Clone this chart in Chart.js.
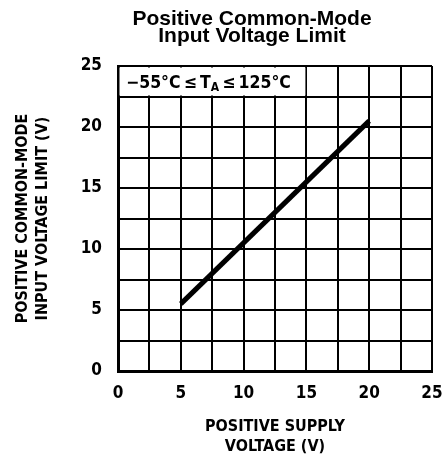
<!DOCTYPE html>
<html>
<head>
<meta charset="utf-8">
<script src="https://cdn.jsdelivr.net/npm/chart.js@4.4.1/dist/chart.umd.min.js"></script>
<style>
  html, body { margin: 0; padding: 0; background: #fff; }
  #wrap { width: 443px; height: 463px; }
</style>
</head>
<body>
<div id="wrap"><canvas id="c" width="443" height="463"></canvas></div>
<script>
// ---- data ----
const supplyVoltage = [5, 20];          // V (x)
const cmLimit = [5.5, 20.5];            // V (y)
const axisMin = 0;
const axisMax = 25;
const gridStep = 2.5;
const labelStep = 5;
const titleLines = ['Positive Common-Mode', 'Input Voltage Limit'];
const xTitleLines = ['POSITIVE SUPPLY', 'VOLTAGE (V)'];
const yTitleLines = ['POSITIVE COMMON-MODE', 'INPUT VOLTAGE LIMIT (V)'];
const noteParts = ['\u221255\u00B0C\u2009\u2264\u2009T', 'A', '\u2009\u2264\u2009125\u00B0C'];
const noteBox = { x0: 0, x1: 15, y0: 22.5, y1: 25 };

const COND = "'Liberation Sans Narrow', 'DejaVu Sans Condensed', 'Roboto Condensed', sans-serif";
const SANS = "'Liberation Sans', Arial, Helvetica, sans-serif";

const points = supplyVoltage.map((v, i) => ({ x: v, y: cmLimit[i] }));

const overlay = {
  id: 'overlay',
  beforeDatasetsDraw(chart) {
    const { ctx, scales: { x, y } } = chart;
    const l = x.getPixelForValue(noteBox.x0), r = x.getPixelForValue(noteBox.x1);
    const t = y.getPixelForValue(noteBox.y1), b = y.getPixelForValue(noteBox.y0);
    ctx.save();
    ctx.fillStyle = '#fff';
    ctx.fillRect(l + 1.5, t + 1.5, r - l - 2.5, b - t - 2.5);
    ctx.fillStyle = '#000';
    ctx.textBaseline = 'alphabetic';
    ctx.textAlign = 'left';
    const base = (t + b) / 2 + 7;
    let px = l + 8;
    ctx.font = 'bold 17.5px ' + COND;
    ctx.fillText(noteParts[0], px, base);
    px += ctx.measureText(noteParts[0]).width;
    ctx.font = 'bold 12px ' + COND;
    ctx.fillText(noteParts[1], px, base + 3);
    px += ctx.measureText(noteParts[1]).width;
    ctx.font = 'bold 17.5px ' + COND;
    ctx.fillText(noteParts[2], px, base);
    ctx.restore();
  },
  afterDraw(chart) {
    const { ctx } = chart;
    ctx.save();
    ctx.fillStyle = '#000';
    ctx.font = 'bold 21px ' + SANS;
    ctx.textAlign = 'center';
    ctx.textBaseline = 'alphabetic';
    ctx.fillText(titleLines[0], 252, 25);
    ctx.fillText(titleLines[1], 252, 42);
    ctx.restore();
  }
};

const tickFont = { family: COND, size: 17, weight: 'bold' };
const axisTitleFont = { family: COND, size: 16, weight: 'bold', lineHeight: 1.25 };

new Chart(document.getElementById('c'), {
  type: 'scatter',
  data: {
    datasets: [{
      data: points,
      showLine: true,
      borderColor: '#000',
      borderWidth: 5,
      pointRadius: 0,
      fill: false
    }]
  },
  options: {
    responsive: false,
    animation: false,
    devicePixelRatio: 1,
    layout: { padding: { top: 66, right: 0, left: 0, bottom: 0 } },
    plugins: { legend: { display: false }, tooltip: { enabled: false }, title: { display: false } },
    scales: {
      x: {
        type: 'linear', min: axisMin, max: axisMax,
        afterFit(s) { s.height = 92; s.paddingRight = 11; },
        ticks: {
          stepSize: gridStep, color: '#000', font: tickFont, padding: 12, maxRotation: 0, autoSkip: false,
          callback: v => (v % labelStep === 0 ? v : '')
        },
        grid: { color: '#000', lineWidth: 2, drawTicks: false },
        border: { color: '#000', width: 3 },
        title: { display: true, text: xTitleLines, color: '#000', font: axisTitleFont, padding: { top: 12, bottom: 6 } }
      },
      y: {
        type: 'linear', min: axisMin, max: axisMax,
        afterFit(s) { s.width = 118; },
        ticks: {
          stepSize: gridStep, color: '#000', font: tickFont, padding: 16, autoSkip: false,
          callback: v => (v % labelStep === 0 ? v : '')
        },
        grid: { color: '#000', lineWidth: 2, drawTicks: false },
        border: { color: '#000', width: 3 },
        title: { display: true, text: yTitleLines, color: '#000', font: axisTitleFont, padding: { top: 13, bottom: 0 } }
      }
    }
  },
  plugins: [overlay]
});
</script>
</body>
</html>
